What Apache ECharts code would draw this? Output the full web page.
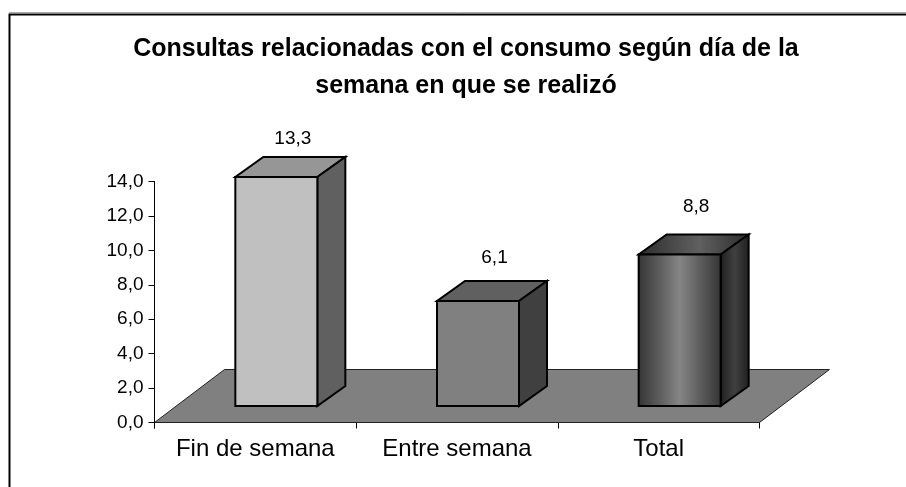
<!DOCTYPE html>
<html><head><meta charset="utf-8">
<style>html,body{margin:0;padding:0;background:#fff}#c{width:906px;height:487px}</style>
<script src="https://cdn.jsdelivr.net/npm/echarts@6/dist/echarts.min.js"></script>
</head><body><div id="c"></div>
<script>
const titleText = 'Consultas relacionadas con el consumo según día de la\nsemana en que se realizó';
const categories = ['Fin de semana', 'Entre semana', 'Total'];
const values = [13.3, 6.1, 8.8];
const valueLabels = ['13,3', '6,1', '8,8'];
const labelNudgeY = [2, -3, -8];

const FLOOR = [70, -53];
const DEPTH = [28, -20];
const BAR_W = 82;
const fmt = v => v.toFixed(1).replace('.', ',');
const facePalette = [
  {front: '#c0c0c0', top: '#969696', side: '#606060'},
  {front: '#808080', top: '#606060', side: '#404040'},
  {
    front: {type:'linear',x:0,y:0,x2:1,y2:0,colorStops:[{offset:0,color:'#333'},{offset:.5,color:'#858585'},{offset:1,color:'#333'}]},
    top: {type:'linear',x:0,y:0,x2:1,y2:0,colorStops:[{offset:0,color:'#2c2c2c'},{offset:.55,color:'#606060'},{offset:1,color:'#2c2c2c'}]},
    side: {type:'linear',x:0,y:0,x2:1,y2:0,colorStops:[{offset:0,color:'#1e1e1e'},{offset:.5,color:'#404040'},{offset:1,color:'#1e1e1e'}]}
  }
];
const stroke = {stroke:'#000', lineWidth:2, lineJoin:'miter'};

function renderBar(params, api) {
  const i = api.value(0), v = api.value(1);
  const base = api.coord([i, 0]);
  const h = api.size([0, v])[1];
  const cx = base[0] + (FLOOR[0] - DEPTH[0]) / 2;
  const by = base[1] + (FLOOR[1] - DEPTH[1]) / 2;
  const l = cx - BAR_W / 2, r = cx + BAR_W / 2, t = by - h;
  const dx = DEPTH[0], dy = DEPTH[1];
  const pal = facePalette[i];
  return {type:'group', children:[
    {type:'polygon', shape:{points:[[l,t],[r,t],[r+dx,t+dy],[l+dx,t+dy]]}, style:{fill:pal.top, ...stroke}},
    {type:'polygon', shape:{points:[[r,t],[r+dx,t+dy],[r+dx,by+dy],[r,by]]}, style:{fill:pal.side, ...stroke}},
    {type:'rect', shape:{x:l,y:t,width:BAR_W,height:by-t}, style:{fill:pal.front, ...stroke}},
    {type:'text', style:{x:cx+16.5, y:t+dy-20+labelNudgeY[i], text:valueLabels[i], fill:'#000',
      font:'19px "Liberation Sans"', align:'center', verticalAlign:'middle'}}
  ]};
}
function renderFloor(params, api) {
  const band = api.size([1, 0])[0];
  const a0 = api.coord([0, 0]), b0 = api.coord([2, 0]);
  const a = [a0[0] - band / 2, a0[1]], b = [b0[0] + band / 2, b0[1]];
  return {type:'group', children:[
    {type:'polygon', silent:true, shape:{points:[a,b,[b[0]+FLOOR[0],b[1]+FLOOR[1]],[a[0]+FLOOR[0],a[1]+FLOOR[1]]]},
      style:{fill:'#808080', stroke:'#222', lineWidth:1}},
    {type:'line', silent:true, shape:{x1:a[0],y1:a[1],x2:a[0],y2:a[1]+6}, style:{stroke:'#000',lineWidth:1}}
  ]};
}
const chart = echarts.init(document.getElementById('c'), null, {renderer:'canvas'});
chart.setOption({
  animation:false,
  backgroundColor:'#fff',
  graphic:[
    {type:'line', silent:true, shape:{x1:9,y1:12.5,x2:906,y2:12.5}, style:{stroke:'#aaa',lineWidth:1}, z:-1},
    {type:'polyline', silent:true, shape:{points:[[9.5,487],[9.5,14.5],[906,14.5]]}, style:{fill:'none',stroke:'#000',lineWidth:2}, z:-1}
  ],
  title:{text:titleText, left:461, top:26, textAlign:'center',
    textStyle:{fontFamily:'Liberation Sans',fontWeight:'bold',fontSize:25,lineHeight:37,color:'#000'}},
  grid:{left:154.5,right:146.5,top:181.5,bottom:64.5},
  xAxis:{type:'category',data:categories,axisLine:{lineStyle:{color:'#000',width:1}},
    axisTick:{show:true,interval:0,length:6,alignWithLabel:false,lineStyle:{color:'#000'}},
    axisLabel:{fontFamily:'Liberation Sans',fontSize:24,color:'#000',margin:15,interval:0,hideOverlap:false}},
  yAxis:{type:'value',min:0,max:14,interval:2,axisLine:{show:true,lineStyle:{color:'#000',width:1}},
    axisTick:{show:true,length:6,lineStyle:{color:'#000'}},splitLine:{show:false},
    axisLabel:{fontFamily:'Liberation Sans',fontSize:19,color:'#000',margin:11,formatter:fmt}},
  series:[
    {type:'custom',renderItem:renderFloor,data:[[0,0]],encode:{x:0,y:1},z:1,clip:false,silent:true},
    {type:'custom',renderItem:renderBar,data:values.map((v,i)=>[i,v]),encode:{x:0,y:1},z:2,clip:false}
  ]
});
</script></body></html>
